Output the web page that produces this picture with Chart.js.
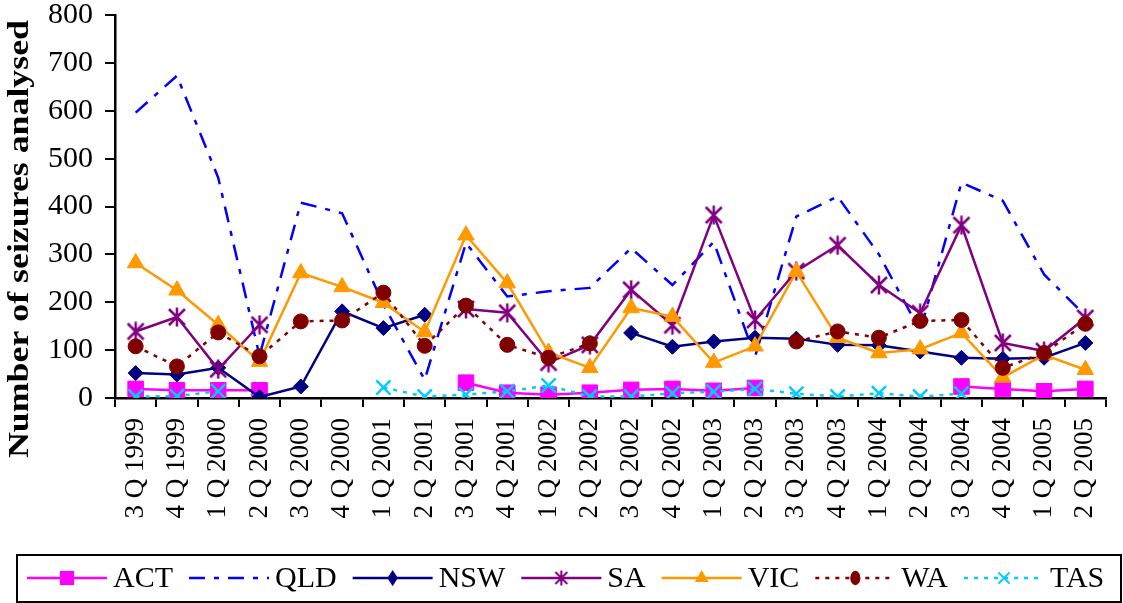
<!DOCTYPE html>
<html><head><meta charset="utf-8">
<script src="https://cdn.jsdelivr.net/npm/chart.js@4.4.0/dist/chart.umd.min.js"></script>
<style>html,body{margin:0;padding:0;background:#fff;overflow:hidden}#wrap{width:1123px;height:603px}</style>
</head><body><div id="wrap"><canvas id="c" width="1123" height="603"></canvas></div>
<script>
const categories = ['3 Q 1999','4 Q 1999','1 Q 2000','2 Q 2000','3 Q 2000','4 Q 2000','1 Q 2001','2 Q 2001','3 Q 2001','4 Q 2001','1 Q 2002','2 Q 2002','3 Q 2002','4 Q 2002','1 Q 2003','2 Q 2003','3 Q 2003','4 Q 2003','1 Q 2004','2 Q 2004','3 Q 2004','4 Q 2004','1 Q 2005','2 Q 2005'];
const ACT = [19,16,16,16,null,null,null,null,32,11,7,11,17,19,15,21,null,null,null,null,24,19,14,19];
const QLD = [596,673,460,88,408,386,195,38,324,212,223,230,313,236,326,86,379,421,300,140,450,412,258,172];
const NSW = [52,49,63,2,24,181,146,174,null,null,null,null,136,107,118,126,124,111,110,97,84,82,84,115];
const SA  = [139,169,60,153,null,null,null,null,186,178,74,111,226,152,382,163,265,319,236,177,361,115,98,167];
const VIC = [282,225,153,76,261,232,199,138,340,240,95,63,188,170,74,108,264,126,94,102,136,43,90,59];
const WA  = [108,66,137,87,160,162,220,109,193,111,84,114,null,null,null,null,118,139,126,161,163,63,94,155];
const TAS = [3,4,14,null,null,null,22,3,7,14,26,3,3,10,13,19,9,3,10,3,9,null,null,null];
const yTicks = [0,100,200,300,400,500,600,700,800];
const yTitle = 'Number of seizures analysed';

function makeStar(color, size, lw) {
  const c = document.createElement('canvas');
  c.width = size; c.height = size;
  const g = c.getContext('2d');
  g.strokeStyle = color; g.lineWidth = lw; g.lineCap = 'butt';
  const m = size / 2, a = size / 2 - 2;
  g.beginPath();
  g.moveTo(m, 0.5); g.lineTo(m, size - 0.5);
  g.moveTo(m - a, m - a); g.lineTo(m + a, m + a);
  g.moveTo(m + a, m - a); g.lineTo(m - a, m + a);
  g.stroke();
  return c;
}
const starBig = makeStar('#800080', 20, 2.5);
const starSmall = makeStar('#800080', 16, 2);

const series = [
  {label:'ACT', data:ACT, color:'#FF00FF', dash:[], style:'rect', r:11, lr:10, bw:1},
  {label:'QLD', data:QLD, color:'#0000FF', dash:[16,9,5,9], style:false, r:0, lr:0, bw:1},
  {label:'NSW', data:NSW, color:'#000080', dash:[], style:'rectRot', r:7.5, lr:6.5, bw:1},
  {label:'SA',  data:SA,  color:'#800080', dash:[], style:starBig, legendStyle:starSmall, r:9, lr:8, bw:1},
  {label:'VIC', data:VIC, color:'#FF9900', dash:[], style:'triangle', r:9.5, lr:8, bw:1},
  {label:'WA',  data:WA,  color:'#800000', dash:[4,6], style:'circle', r:7.5, lr:6, bw:1},
  {label:'TAS', data:TAS, color:'#00CCFF', dash:[4,6], style:'crossRot', r:10, lr:8, bw:2.5},
];

const datasets = series.map((s, i) => ({
  label: s.label,
  data: s.data,
  borderColor: s.color,
  backgroundColor: s.color,
  borderWidth: 2.5,
  borderDash: s.dash,
  pointStyle: s.style,
  pointRadius: s.r,
  pointHoverRadius: s.r,
  pointBackgroundColor: s.color,
  pointBorderColor: s.color,
  pointBorderWidth: s.bw,
  tension: 0,
  spanGaps: false,
  order: series.length - i,
}));

function drawMarker(ctx, s, x, y) {
  const r = s.lr;
  if (!s.style || r === 0) return;
  ctx.save();
  ctx.setLineDash([]);
  ctx.fillStyle = s.color; ctx.strokeStyle = s.color;
  if (s.legendStyle) {
    const im = s.legendStyle;
    ctx.drawImage(im, x - im.width / 2, y - im.height / 2);
  } else if (s.style === 'rect') {
    const h = r * Math.SQRT1_2;
    ctx.fillRect(x - h, y - h, 2 * h, 2 * h);
  } else if (s.style === 'rectRot') {
    ctx.beginPath(); ctx.moveTo(x, y - r * 1.25); ctx.lineTo(x + r * 0.8, y); ctx.lineTo(x, y + r * 1.25); ctx.lineTo(x - r * 0.8, y); ctx.closePath(); ctx.fill();
  } else if (s.style === 'triangle') {
    ctx.beginPath(); ctx.moveTo(x, y - r); ctx.lineTo(x + r * 0.866, y + r / 2); ctx.lineTo(x - r * 0.866, y + r / 2); ctx.closePath(); ctx.fill();
  } else if (s.style === 'circle') {
    ctx.beginPath(); ctx.ellipse(x, y, r * 0.85, r * 1.2, 0, 0, Math.PI * 2); ctx.fill();
  } else if (s.style === 'crossRot') {
    const a = r * 0.7;
    ctx.lineWidth = 2;
    ctx.beginPath(); ctx.moveTo(x - a, y - a); ctx.lineTo(x + a, y + a); ctx.moveTo(x + a, y - a); ctx.lineTo(x - a, y + a); ctx.stroke();
  }
  ctx.restore();
}

const extras = {
  id: 'extras',
  afterDraw(chart) {
    const ctx = chart.ctx;
    ctx.save();
    ctx.fillStyle = '#000';
    ctx.font = 'bold 30px "Liberation Serif", serif';
    const w = ctx.measureText(yTitle).width;
    ctx.translate(28, 239);
    ctx.rotate(-Math.PI / 2);
    ctx.scale(438 / w, 1);
    ctx.textAlign = 'center';
    ctx.textBaseline = 'alphabetic';
    ctx.fillText(yTitle, 0, 0);
    ctx.restore();

    ctx.save();
    ctx.strokeStyle = '#000';
    ctx.lineWidth = 2;
    ctx.strokeRect(17, 555, 1104, 47);
    ctx.font = '30px "Liberation Serif", serif';
    ctx.textBaseline = 'middle';
    ctx.textAlign = 'left';
    const cy = 578;
    let x = 27;
    series.forEach((s) => {
      ctx.save();
      ctx.strokeStyle = s.color;
      ctx.lineWidth = 2.5;
      ctx.setLineDash(s.dash);
      ctx.beginPath(); ctx.moveTo(x, cy); ctx.lineTo(x + 80, cy); ctx.stroke();
      ctx.restore();
      drawMarker(ctx, s, x + 40, cy);
      ctx.fillStyle = '#000';
      ctx.fillText(s.label, x + 86, cy + 1);
      x += 86 + ctx.measureText(s.label).width + 16;
    });
    ctx.restore();
  }
};

new Chart(document.getElementById('c'), {
  type: 'line',
  data: { labels: categories, datasets },
  options: {
    responsive: false,
    devicePixelRatio: 1,
    animation: false,
    events: [],
    layout: { padding: { top: 15, right: 17, bottom: 80, left: 0 } },
    plugins: { legend: { display: false }, tooltip: { enabled: false }, title: { display: false } },
    scales: {
      x: {
        type: 'category',
        offset: true,
        grid: { display: true, offset: true, drawOnChartArea: false, drawTicks: true, tickLength: 9, color: '#000', lineWidth: 2 },
        border: { display: true, color: '#000', width: 2.5 },
        ticks: { autoSkip: false, maxRotation: 90, minRotation: 90, padding: 11, color: '#000', font: { family: '"Liberation Serif", serif', size: 27 } },
        afterFit(scale) { scale.height = 125; scale.paddingLeft = 0; scale.paddingRight = 0; }
      },
      y: {
        min: 0, max: 800,
        afterBuildTicks(scale) { scale.ticks = yTicks.map(v => ({ value: v })); },
        grid: { display: true, drawOnChartArea: false, drawTicks: true, tickLength: 10, color: '#000', lineWidth: 2 },
        border: { display: true, color: '#000', width: 2.5 },
        ticks: { padding: 12, color: '#000', font: { family: '"Liberation Serif", serif', size: 30 } },
        afterFit(scale) { scale.width = 115; scale.paddingTop = 0; scale.paddingBottom = 0; }
      }
    }
  },
  plugins: [extras]
});
</script></body></html>
